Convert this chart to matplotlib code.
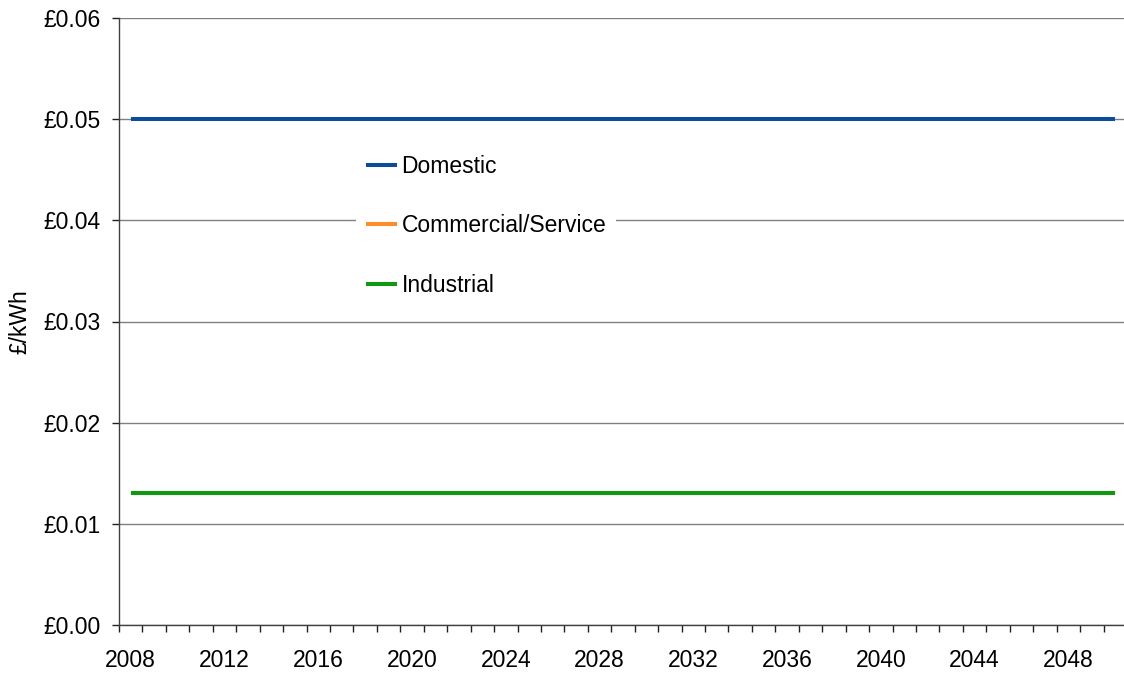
import matplotlib
matplotlib.use("Agg")
import matplotlib.pyplot as plt
from matplotlib.ticker import FuncFormatter, MultipleLocator

plt.rcParams['font.family'] = ['Liberation Sans', 'DejaVu Sans']

years = list(range(2008, 2051))

domestic = [0.050, 0.050, 0.050, 0.050, 0.050, 0.050, 0.050, 0.050, 0.050, 0.050,
            0.050, 0.050, 0.050, 0.050, 0.050, 0.050, 0.050, 0.050, 0.050, 0.050,
            0.050, 0.050, 0.050, 0.050, 0.050, 0.050, 0.050, 0.050, 0.050, 0.050,
            0.050, 0.050, 0.050, 0.050, 0.050, 0.050, 0.050, 0.050, 0.050, 0.050,
            0.050, 0.050, 0.050]
commercial = [0.013, 0.013, 0.013, 0.013, 0.013, 0.013, 0.013, 0.013, 0.013, 0.013,
              0.013, 0.013, 0.013, 0.013, 0.013, 0.013, 0.013, 0.013, 0.013, 0.013,
              0.013, 0.013, 0.013, 0.013, 0.013, 0.013, 0.013, 0.013, 0.013, 0.013,
              0.013, 0.013, 0.013, 0.013, 0.013, 0.013, 0.013, 0.013, 0.013, 0.013,
              0.013, 0.013, 0.013]
industrial = [0.013, 0.013, 0.013, 0.013, 0.013, 0.013, 0.013, 0.013, 0.013, 0.013,
              0.013, 0.013, 0.013, 0.013, 0.013, 0.013, 0.013, 0.013, 0.013, 0.013,
              0.013, 0.013, 0.013, 0.013, 0.013, 0.013, 0.013, 0.013, 0.013, 0.013,
              0.013, 0.013, 0.013, 0.013, 0.013, 0.013, 0.013, 0.013, 0.013, 0.013,
              0.013, 0.013, 0.013]

series_names = ["Domestic", "Commercial/Service", "Industrial"]
series_colors = ["#0B4C9C", "#FF8C26", "#0E9A0E"]
year_labels = [2008, 2012, 2016, 2020, 2024, 2028, 2032, 2036, 2040, 2044, 2048]

FS = 16.5
W, H = 1124, 675
fig = plt.figure(figsize=(W / 100, H / 100), dpi=100)
left_px, right_px, top_px, bottom_px = 119, 1127, 18, 625
ax = fig.add_axes([left_px / W, 1 - bottom_px / H,
                   (right_px - left_px) / W, (bottom_px - top_px) / H])

for vals, name, col in zip([domestic, commercial, industrial], series_names, series_colors):
    ax.plot(years, vals, color=col, lw=2.9, label=name, solid_capstyle='butt', zorder=3)

ax.set_xlim(2007.5, 2050.5)
ax.set_ylim(0, 0.06)
ax.yaxis.set_major_locator(MultipleLocator(0.01))
ax.yaxis.set_major_formatter(FuncFormatter(lambda v, p: f"£{v:.2f}"))
ax.set_xticks(year_labels)
ax.set_xticklabels([str(y) for y in year_labels])
ax.set_xticks([y + 0.5 for y in range(2007, 2050)], minor=True)

ax.grid(axis='y', color='#808080', lw=1.0, zorder=0)
ax.set_axisbelow(True)
for s in ['top', 'right']:
    ax.spines[s].set_visible(False)
for s in ['left', 'bottom']:
    ax.spines[s].set_color('#404040')
    ax.spines[s].set_linewidth(1.0)

ax.tick_params(axis='x', which='major', length=0, pad=17, labelsize=FS)
ax.tick_params(axis='x', which='minor', direction='out', length=5, width=1, color='#202020')
ax.tick_params(axis='y', which='major', direction='out', length=5, width=1,
               color='#202020', pad=8, labelsize=FS)

ax.set_ylabel("£/kWh", fontsize=FS, labelpad=9)

leg = ax.legend(loc='center left', bbox_to_anchor=(345 / W, 1 - 226 / H),
                bbox_transform=fig.transFigure, fontsize=FS,
                frameon=True, fancybox=False, framealpha=1, edgecolor='none',
                facecolor='white', handlelength=1.35, handletextpad=0.22,
                labelspacing=1.59, borderpad=0.4)
leg.set_zorder(5)

fig.savefig("out.png", dpi=100)
